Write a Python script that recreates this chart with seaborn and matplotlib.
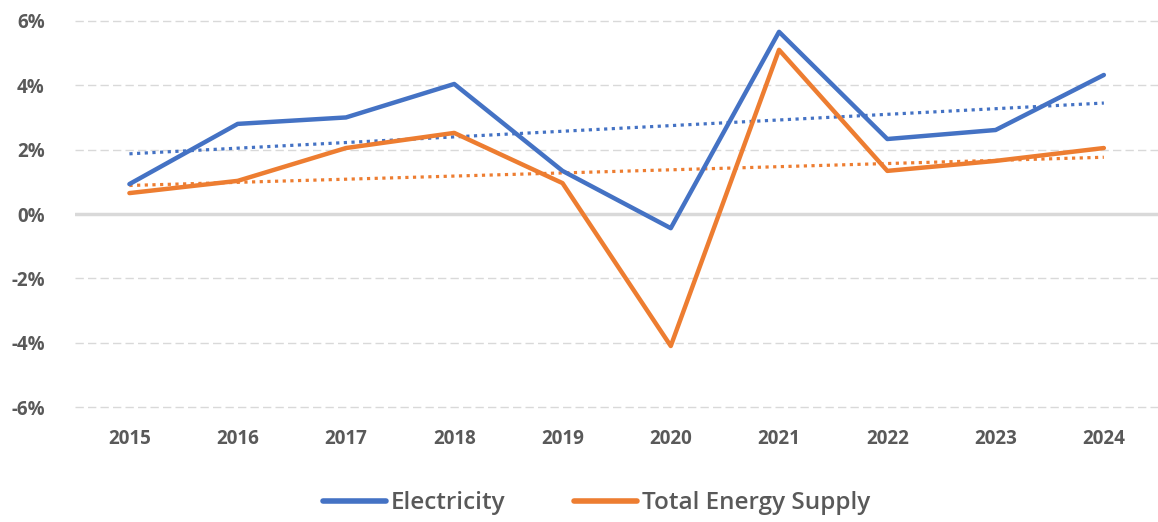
import numpy as np
import pandas as pd
import matplotlib
matplotlib.use("Agg")
import matplotlib.pyplot as plt
import seaborn as sns
from matplotlib.ticker import FuncFormatter

## values (annual growth, %)
years = [2015, 2016, 2017, 2018, 2019, 2020, 2021, 2022, 2023, 2024]
electricity = [0.93, 2.80, 3.00, 4.04, 1.34, -0.44, 5.66, 2.33, 2.61, 4.32]
total_supply = [0.65, 1.03, 2.05, 2.52, 0.96, -4.10, 5.10, 1.34, 1.65, 2.05]
series_names = ["Electricity", "Total Energy Supply"]
colors = ["#4472C4", "#ED7D31"]

df = pd.DataFrame({
    "year": years * 2,
    "growth": electricity + total_supply,
    "series": [series_names[0]] * len(years) + [series_names[1]] * len(years),
})

sns.set_style("white")
plt.rcParams["font.family"] = ["Open Sans", "DejaVu Sans"]
txt = "#595959"

fig = plt.figure(figsize=(11.58, 5.22), dpi=100)
ax = fig.add_axes([0.065, 0.22, 0.935, 0.74])

## grid
for v in [-6, -4, -2, 2, 4, 6]:
    ax.axhline(v, color="#d9d9d9", lw=1, ls=(0, (6, 3)), zorder=0, clip_on=False)
ax.axhline(0, color="#d9d9d9", lw=2.5, zorder=0.5)

sns.lineplot(data=df, x="year", y="growth", hue="series", palette=colors,
             lw=3.2, ax=ax, legend=True, zorder=3)

## linear trend lines
for name, c in zip(series_names, colors):
    sub = df[df["series"] == name]
    sns.regplot(data=sub, x="year", y="growth", scatter=False, ci=None,
                color=c, ax=ax, line_kws=dict(ls=(0, (1, 1.4)), lw=2.3, zorder=2))

ax.set_xlim(2014.5, 2024.5)
ax.set_ylim(-6, 6)
ax.set_yticks([-6, -4, -2, 0, 2, 4, 6])
ax.set_xticks(years)
ax.yaxis.set_major_formatter(FuncFormatter(lambda v, p: "%d%%" % v))
ax.set_xlabel("")
ax.set_ylabel("")
for s in ax.spines.values():
    s.set_visible(False)
ax.tick_params(axis="both", length=0, labelsize=13.5, labelcolor=txt)
ax.tick_params(axis="y", pad=22)
ax.tick_params(axis="x", pad=16)
for lab in ax.get_xticklabels() + ax.get_yticklabels():
    lab.set_fontweight("bold")

handles, labels = ax.get_legend_handles_labels()
ax.get_legend().remove()
leg = fig.legend(handles[:2], labels[:2], loc="center", bbox_to_anchor=(0.515, 0.036),
                 ncol=2, frameon=False, fontsize=17.5, handlelength=2.6, columnspacing=2.8,
                 handletextpad=0.2)
for t in leg.get_texts():
    t.set_color(txt)
    t.set_fontweight("semibold")
for h in leg.get_lines():
    h.set_linewidth(4)

fig.savefig("out.png", dpi=100)
